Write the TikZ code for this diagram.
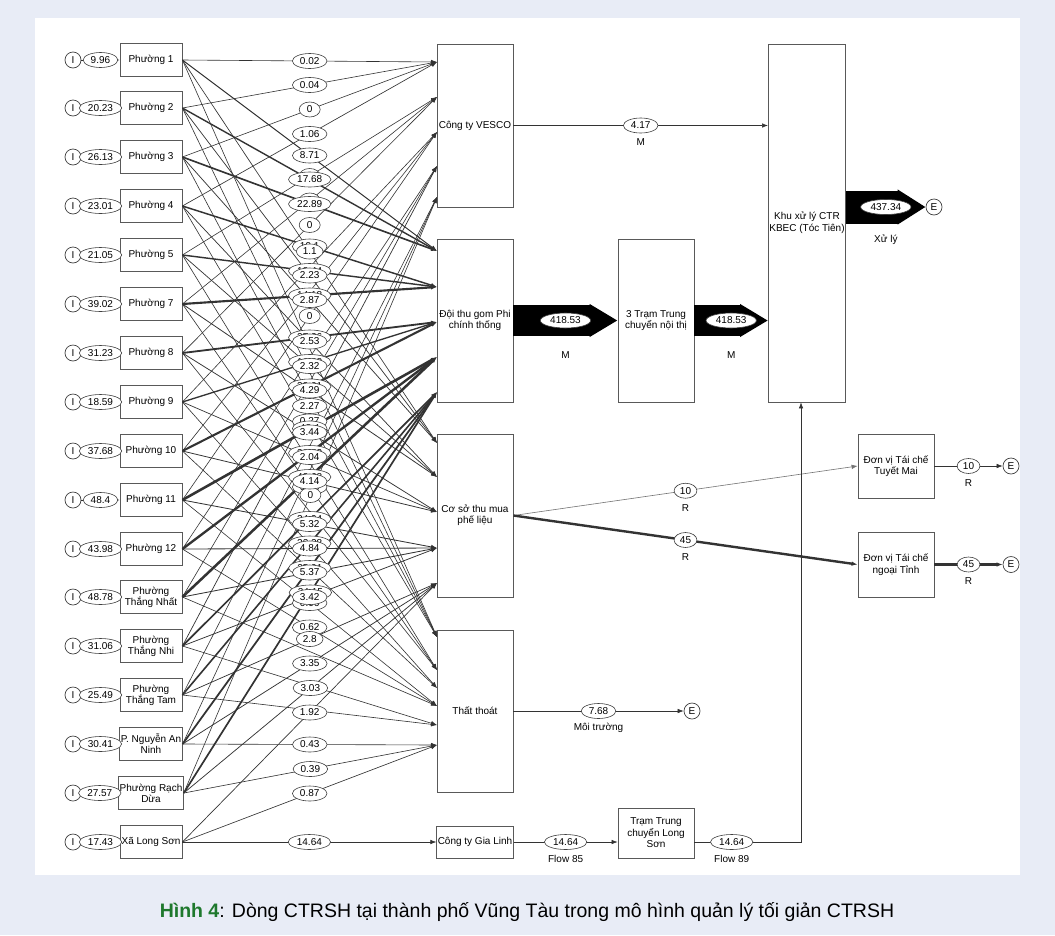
\documentclass[tikz,border=0pt]{standalone}
\usepackage{fontspec}
\setmainfont{Liberation Sans}
\usetikzlibrary{shapes.geometric,arrows.meta,calc}

\definecolor{pagebg}{RGB}{232,236,246}
\definecolor{figgreen}{RGB}{30,120,45}

% flows: ward/arrival point/weight/label  (- = label hidden)
\newcommand{\flowsT}{p1/t1/0.1/-, p2/t1/0.3/-, p3/t1/0.4/-, p4/t1/0.27/0.27,
  p5/t2/0.3/-, p7/t2/0.35/0.35, p8/t2/0.4/-, p9/t3/0.3/-, p10/t3/0.5/-,
  p11/t4/0.06/0.06, p12/t4/0.62/0.62, ptn/t4/0.7/-, ptnhi/t5/0.4/-,
  pttam/t5/0.4/-, pnan/t6/0.43/0.43, prd/t6/0.39/0.39, xls/t6/0.87/0.87}
\newcommand{\flowsV}{p1/v1/0.02/0.02, p2/v1/0.04/0.04, p3/v1/0/0, p4/v1/1.06/1.06,
  p5/v2/0/0, p7/v2/0/0, p8/v2/0/0, p9/v3/0/-, p10/v3/0/-, p11/v3/0/0,
  p12/v4/0/-, ptn/v4/0/-, ptnhi/v4/2.27/2.27, pttam/v5/0/-, pnan/v5/0/-, prd/v5/0/0}
\newcommand{\flowsD}{p1/d1/8.71/8.71, p2/d1/17.68/17.68, p3/d1/22.89/22.89,
  p4/d2/19.1/19.1, p5/d2/18.44/18.44, p7/d2/34/14.18, p8/d3/27.36/27.36,
  p9/d3/16.28/16.28, p10/d3/33.01/33.01, p11/d4/43.4/43.4, p12/d4/38.53/38.53,
  ptn/d4/42.68/42.68, ptnhi/d5/24.94/24.94, pttam/d5/22.28/22.28,
  pnan/d5/25.91/25.91, prd/d5/24.15/24.15}
\newcommand{\flowsC}{p1/c1/1.1/1.1, p2/c1/2.23/2.23, p3/c1/2.87/2.87,
  p4/c2/2.53/2.53, p5/c2/2.32/2.32, p7/c2/4.29/4.29, p8/c3/3.44/3.44,
  p9/c3/2.04/2.04, p10/c3/4.14/4.14, p11/c4/5.32/5.32, p12/c4/4.84/4.84,
  ptn/c4/5.37/5.37, ptnhi/c4/3.42/3.42, pttam/c5/2.8/2.8, pnan/c5/3.35/3.35,
  prd/c5/3.03/3.03, xls/c5/1.92/1.92}

\newcommand*{\nolbl}{-}
\newcommand{\drawflows}[1]{%
  \foreach \src/\dst/\wt/\txt in #1 {
    \draw[flow, line width={0.6pt+0.045pt*\wt}] (\src.east) -- (\dst);
  }}
\newcommand{\labelflows}[1]{%
  \foreach \src/\dst/\wt/\txt in #1 {
    \edef\lbltmp{\txt}%
    \ifx\lbltmp\nolbl\else
      \path (\src.east) -- (\dst) node[midway, val] {\txt};
    \fi
  }}

\begin{document}
\begin{tikzpicture}[x=1pt, y=-1pt,
    ward/.style={draw=black!65, line width=0.8pt, fill=white, minimum width=62pt,
      minimum height=33pt, inner sep=1pt, align=center, font=\fontsize{10}{11}\selectfont},
    stage/.style={draw=black!65, line width=0.8pt, fill=white, minimum width=76pt,
      inner sep=1pt, align=center, font=\fontsize{10}{11.5}\selectfont},
    val/.style={ellipse, draw=black!75, fill=white, line width=0.6pt, inner xsep=2.5pt,
      inner ysep=0.3pt, minimum width=21pt, minimum height=15pt,
      font=\fontsize{10}{11}\selectfont},
    endpt/.style={circle, draw=black!75, fill=white, line width=0.7pt, inner sep=0pt,
      minimum size=16pt, font=\fontsize{10}{11}\selectfont},
    note/.style={font=\fontsize{10}{11}\selectfont},
    flow/.style={draw=black!80, line width=0.6pt, -{Latex[length=6pt,width=4.5pt]}},
    fat/.style={draw=black, line width=31pt, -{Triangle[length=28pt,width=0pt 1]}}]

  % page and panel
  \fill[pagebg] (0,0) rectangle (1055,935);
  \fill[white] (35,18) rectangle (1020,875);

  % wards with their inputs
  \foreach \nm/\y/\txt/\amt in {p1/60/{Phường 1}/9.96, p2/108/{Phường 2}/20.23,
      p3/157/{Phường 3}/26.13, p4/206/{Phường 4}/23.01, p5/255/{Phường 5}/21.05,
      p7/304/{Phường 7}/39.02, p8/353/{Phường 8}/31.23, p9/402/{Phường 9}/18.59,
      p10/451/{Phường 10}/37.68, p11/500/{Phường 11}/48.4, p12/549/{Phường 12}/43.98,
      ptn/597/{Phường\\Thắng Nhất}/48.78, ptnhi/646/{Phường\\Thắng Nhi}/31.06,
      pttam/695/{Phường\\Thắng Tam}/25.49, pnan/744/{P. Nguyễn An\\Ninh}/30.41,
      prd/793/{Phường Rạch\\Dừa}/27.57, xls/842/{Xã Long Sơn}/17.43}{
    \node[ward] (\nm) at (151,\y) {\txt};
    \node[endpt] (src\nm) at (73,\y) {I};
    \draw[flow] (src\nm) -- (\nm) node[midway, val] {\amt};
  }

  % collection stages
  \node[stage, minimum height=163pt] (vesco) at (475,125.5) {Công ty VESCO};
  \node[stage, minimum height=163pt] (doi) at (475,320.5) {Đội thu gom Phi\\chính thống};
  \node[stage, minimum height=163pt] (coso) at (475,515.5) {Cơ sở thu mua\\phế liệu};
  \node[stage, minimum height=162pt] (thatthoat) at (475,711) {Thất thoát};
  \node[stage, minimum height=32pt] (gialinh) at (475,842) {Công ty Gia Linh};
  \node[stage, minimum height=163pt] (tram3) at (656,320.5) {3 Trạm Trung\\chuyển nội thị};
  \node[stage, minimum height=358pt] (khu) at (807,223) {Khu xử lý CTR\\KBEC (Tóc Tiên)};
  \node[stage, minimum height=50pt] (tramls) at (656,833) {Trạm Trung\\chuyển Long\\Sơn};
  \node[stage, minimum height=64pt] (tuyetmai) at (896,466) {Đơn vị Tái chế\\Tuyết Mai};
  \node[stage, minimum height=65pt] (ngoaitinh) at (896,564.5) {Đơn vị Tái chế\\ngoại Tỉnh};

  % arrival points on the stage boxes
  \foreach \nm/\y in {v1/62, v2/97, v3/132, v4/166, v5/197, d1/251, d2/287, d3/322,
      d4/357, d5/392, c1/443, c2/477, c3/512, c4/548, c5/583, t1/637, t2/670,
      t3/688, t4/706, t5/725, t6/745}
    \coordinate (\nm) at (437,\y);

  % ward flows, then their labels
  \drawflows{\flowsT}
  \drawflows{\flowsV}
  \drawflows{\flowsD}
  \drawflows{\flowsC}
  \labelflows{\flowsT}
  \labelflows{\flowsV}
  \labelflows{\flowsD}
  \labelflows{\flowsC}

  % main stream
  \draw[flow] (vesco.east) -- (vesco.east -| khu.west)
    node[midway, val] {4.17} node[midway, note, yshift=-17pt] {M};
  \draw[fat] (doi.east) -- (tram3.west)
    node[midway, val] {418.53} node[midway, note, yshift=-35pt] {M};
  \draw[fat] (tram3.east) -- (tram3.east -| khu.west)
    node[midway, val] {418.53} node[midway, note, yshift=-35pt] {M};
  \node[endpt] (ekhu) at (934,207) {E};
  \draw[fat, line width=33pt] (khu.east |- ekhu) -- (ekhu.west)
    node[midway, val] {437.34} node[midway, note, yshift=-33pt] {Xử lý};

  % recycling and losses
  \node[endpt] (etm) at (1011,466) {E};
  \node[endpt] (eng) at (1011,564.5) {E};
  \node[endpt] (ett) at (692,711) {E};
  \draw[flow, draw=black!55] (coso.east) -- (tuyetmai.west)
    node[midway, val] {10} node[midway, note, yshift=-17pt] {R};
  \draw[flow, line width=2.4pt] (coso.east) -- (ngoaitinh.west)
    node[midway, val] {45} node[midway, note, yshift=-17pt] {R};
  \draw[flow] (tuyetmai.east) -- (etm)
    node[midway, val] {10} node[midway, note, yshift=-17pt] {R};
  \draw[flow, line width=2.4pt] (ngoaitinh.east) -- (eng)
    node[midway, val] {45} node[midway, note, yshift=-17pt] {R};
  \draw[flow] (thatthoat.east) -- (ett)
    node[midway, val] {7.68} node[midway, note, yshift=-17pt] {Môi trường};

  % Long Son branch
  \coordinate (khuin) at ($(khu.south)+(-6,0)$);
  \draw[flow] (xls) -- (gialinh) node[midway, val] {14.64};
  \draw[flow] (gialinh.east) -- (gialinh.east -| tramls.west)
    node[midway, val] {14.64} node[midway, note, yshift=-17pt] {Flow 85};
  \draw[flow] (tramls.east |- gialinh.east) -- (khuin |- gialinh.east)
    node[pos=0.35, val] {14.64} node[pos=0.35, note, yshift=-17pt] {Flow 89} -- (khuin);

  % caption
  \node[font=\fontsize{19.5}{22}\selectfont] (caption) at (527,912)
    {\textcolor{figgreen}{\textbf{Hình 4}}: Dòng CTRSH tại thành phố Vũng Tàu trong mô hình quản lý tối giản CTRSH};
\end{tikzpicture}
\end{document}
